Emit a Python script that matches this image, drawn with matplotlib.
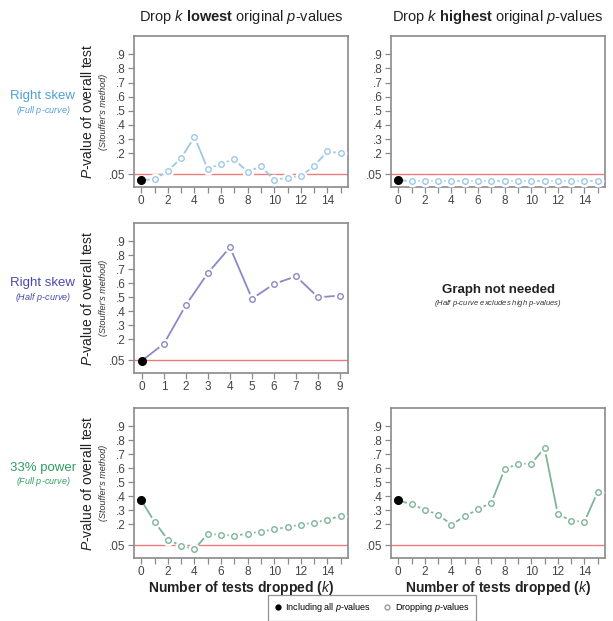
import matplotlib
matplotlib.use("Agg")
import matplotlib.pyplot as plt
from matplotlib.lines import Line2D

plt.rcParams['font.family'] = ['Liberation Sans', 'DejaVu Sans']
plt.rcParams['mathtext.fontset'] = 'custom'
plt.rcParams['mathtext.rm'] = 'Liberation Sans'
plt.rcParams['mathtext.it'] = 'Liberation Sans:italic'
plt.rcParams['mathtext.bf'] = 'Liberation Sans:bold'

# ---------------- data ----------------
k15 = list(range(16))
k9 = list(range(10))

full_low = [0.008, 0.016, 0.074, 0.165, 0.315, 0.086, 0.126, 0.155, 0.067,
            0.107, 0.010, 0.026, 0.036, 0.110, 0.212, 0.200]
full_high = [0.008, 0.003, 0.003, 0.003, 0.003, 0.003, 0.003, 0.003, 0.003,
             0.003, 0.003, 0.003, 0.003, 0.003, 0.003, 0.003]
half_low = [0.048, 0.169, 0.445, 0.674, 0.857, 0.490, 0.595, 0.650, 0.500, 0.512]
power_low = [0.371, 0.217, 0.090, 0.048, 0.024, 0.131, 0.126, 0.119, 0.133,
             0.148, 0.164, 0.181, 0.198, 0.212, 0.233, 0.260]
power_high = [0.371, 0.343, 0.305, 0.269, 0.198, 0.257, 0.307, 0.355, 0.593,
              0.633, 0.631, 0.745, 0.274, 0.226, 0.217, 0.433]

ytick_vals = [0.05, 0.2, 0.3, 0.4, 0.5, 0.6, 0.7, 0.8, 0.9]
ytick_labels = ['.05', '.2', '.3', '.4', '.5', '.6', '.7', '.8', '.9']

col_titles = [r"Drop $\mathit{k}$ $\mathbf{lowest}$ original $\mathit{p}$-values",
              r"Drop $\mathit{k}$ $\mathbf{highest}$ original $\mathit{p}$-values"]
row_labels = [("Right skew", r"(Full $\mathit{p}$-curve)"),
              ("Right skew", r"(Half $\mathit{p}$-curve)"),
              ("33% power", r"(Full $\mathit{p}$-curve)")]

# ---------------- styling ----------------
c_blue_txt, c_blue = '#4f9fd8', '#9dc9e6'
c_purp_txt, c_purp = '#4a48b0', '#8a88c8'
c_green_txt, c_green = '#2f9f62', '#7db59a'
red = '#ec7b7b'
spine_c = '#8a8a8a'

W, H = 613, 621
fig = plt.figure(figsize=(W / 100, H / 100), dpi=100)


def ax_at(x0, y0, x1, y1):
    return fig.add_axes([x0 / W, 1 - y1 / H, (x1 - x0) / W, (y1 - y0) / H])


rows_y = [(36, 187), (223, 373), (408, 558)]
cols_x = [(134, 348), (391, 605)]


def draw_panel(ax, ks, vals, color, xmax, even_labels):
    ax.set_ylim(-0.04, 1.03)
    if xmax == 15:
        ax.set_xlim(-0.55, 15.55)
    else:
        ax.set_xlim(-0.36, 9.36)
    ax.axhline(0.05, color=red, lw=1.0, zorder=1)
    ax.plot(ks, vals, color=color, lw=1.3, zorder=2)
    ax.plot(ks[1:], vals[1:], ls='none', marker='o', ms=7.5, mfc='white',
            mec='white', zorder=3)
    ax.plot(ks[1:], vals[1:], ls='none', marker='o', ms=4, mfc='white',
            mec=color, mew=1.0, zorder=4)
    ax.plot(ks[:1], vals[:1], ls='none', marker='o', ms=5.5, mfc='black',
            mec='black', zorder=5)
    ax.set_yticks(ytick_vals)
    ax.set_yticklabels(ytick_labels)
    ax.set_xticks(ks)
    if even_labels:
        ax.set_xticklabels([str(k) if k % 2 == 0 else '' for k in ks])
    else:
        ax.set_xticklabels([str(k) for k in ks])
    for s in ax.spines.values():
        s.set_color(spine_c)
        s.set_linewidth(1.2)
    ax.tick_params(direction='out', length=4, width=0.9, color=spine_c,
                   labelsize=8.5, labelcolor='#444444', pad=2)


panels = [
    (0, 0, k15, full_low, c_blue, 15, True),
    (0, 1, k15, full_high, c_blue, 15, True),
    (1, 0, k9, half_low, c_purp, 9, False),
    (2, 0, k15, power_low, c_green, 15, True),
    (2, 1, k15, power_high, c_green, 15, True),
]
axes = {}
for r, c, ks, vals, colr, xm, ev in panels:
    (y0, y1), (x0, x1) = rows_y[r], cols_x[c]
    ax = ax_at(x0, y0, x1, y1)
    draw_panel(ax, ks, vals, colr, xm, ev)
    axes[(r, c)] = ax

for c in range(2):
    axes[(2, c)].set_xlabel(r"Number of tests dropped ($\mathbf{\mathit{k}}$)",
                            fontsize=10, fontweight='bold', labelpad=0.5,
                            color='#222222')

# column titles
for c, t in enumerate(col_titles):
    x0, x1 = cols_x[c]
    fig.text((x0 + x1) / 2 / W, 1 - 17 / H, t, ha='center', va='center',
             fontsize=10.5, color='#222222')

# y titles and row labels
row_txt_cols = [c_blue_txt, c_purp_txt, c_green_txt]
for r, (y0, y1) in enumerate(rows_y):
    yc = 1 - (y0 + y1) / 2 / H
    fig.text(88 / W, yc, r"$\mathit{P}$-value of overall test", rotation=90,
             ha='center', va='center', fontsize=10, color='#222222')
    fig.text(103 / W, yc, "(Stouffer's method)", rotation=90, ha='center',
             va='center', fontsize=6.5, style='italic', color='#333333')
    main, sub = row_labels[r]
    fig.text(43 / W, yc + 15 / H, main, ha='center', va='center', fontsize=9.5,
             color=row_txt_cols[r])
    fig.text(43 / W, yc + 1 / H, sub, ha='center', va='center', fontsize=6.5,
             style='italic', color=row_txt_cols[r])

# graph not needed
xc = (cols_x[1][0] + cols_x[1][1]) / 2 / W
fig.text(xc, 1 - 290 / H, "Graph not needed", ha='center', va='center',
         fontsize=9.5, fontweight='bold', color='#222222')
fig.text(xc, 1 - 304 / H, r"(Half $\mathit{p}$-curve excludes high $\mathit{p}$-values)",
         ha='center', va='center', fontsize=5.5, style='italic', color='#333333')

# legend
handles = [Line2D([], [], ls='none', marker='o', ms=3.5, mfc='black', mec='black'),
           Line2D([], [], ls='none', marker='o', ms=3.5, mfc='white', mec='#999999')]
leg = fig.legend(handles, [r"Including all $\mathit{p}$-values",
                           r"Dropping $\mathit{p}$-values"],
                 loc='center', bbox_to_anchor=(372 / W, 1 - 608 / H), ncol=2,
                 fontsize=6.5, frameon=True, fancybox=False, handlelength=0.8,
                 handletextpad=0.4, columnspacing=1.4, borderpad=0.7)
leg.get_frame().set_edgecolor('#777777')
leg.get_frame().set_linewidth(0.9)

fig.savefig('out.png', dpi=100)
